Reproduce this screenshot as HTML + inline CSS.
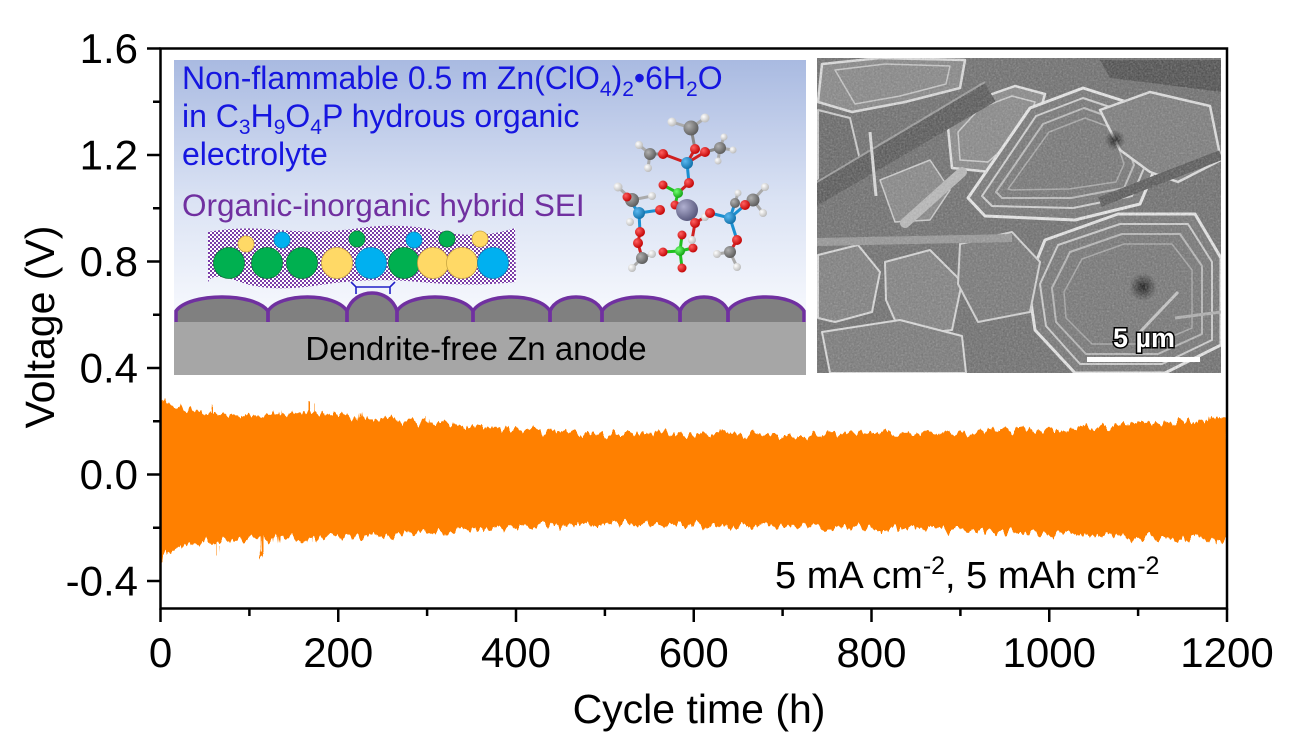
<!DOCTYPE html>
<html>
<head>
<meta charset="utf-8">
<style>
  html,body{margin:0;padding:0;background:#fff;}
  svg{display:block;}
  text{font-family:"Liberation Sans", Arial, sans-serif;}
</style>
</head>
<body>
<svg width="1299" height="738" viewBox="0 0 1299 738" xmlns="http://www.w3.org/2000/svg">
  <defs>
    <linearGradient id="bg1" x1="0" y1="0" x2="0" y2="1">
      <stop offset="0" stop-color="#a9bae1"/>
      <stop offset="0.45" stop-color="#dbe3f4"/>
      <stop offset="0.8" stop-color="#f6f8fd"/>
      <stop offset="1" stop-color="#ffffff"/>
    </linearGradient>
    <pattern id="chk" width="4" height="4" patternUnits="userSpaceOnUse">
      <rect width="4" height="4" fill="#ffffff"/>
      <rect width="2" height="2" fill="#7a3ea8"/>
      <rect x="2" y="2" width="2" height="2" fill="#7a3ea8"/>
    </pattern>
    <radialGradient id="gR" cx="0.35" cy="0.35" r="0.7"><stop offset="0" stop-color="#ff6060"/><stop offset="1" stop-color="#c00000"/></radialGradient>
    <radialGradient id="gC" cx="0.35" cy="0.35" r="0.7"><stop offset="0" stop-color="#b0b0b0"/><stop offset="1" stop-color="#5a5a5a"/></radialGradient>
    <radialGradient id="gW" cx="0.35" cy="0.35" r="0.7"><stop offset="0" stop-color="#ffffff"/><stop offset="1" stop-color="#b8b8b8"/></radialGradient>
    <radialGradient id="gB" cx="0.35" cy="0.35" r="0.7"><stop offset="0" stop-color="#5ab8f0"/><stop offset="1" stop-color="#0f6fa8"/></radialGradient>
    <radialGradient id="gL" cx="0.35" cy="0.35" r="0.7"><stop offset="0" stop-color="#70ff70"/><stop offset="1" stop-color="#10a010"/></radialGradient>
    <radialGradient id="gZ" cx="0.35" cy="0.35" r="0.7"><stop offset="0" stop-color="#b0b0d0"/><stop offset="1" stop-color="#55557a"/></radialGradient>
    <radialGradient id="dark" cx="0.5" cy="0.5" r="0.5"><stop offset="0" stop-color="#000" stop-opacity="0.9"/><stop offset="1" stop-color="#000" stop-opacity="0"/></radialGradient>
    <clipPath id="semclip"><rect x="817" y="58" width="404" height="315"/></clipPath>
    <clipPath id="plotclip"><rect x="161.5" y="49.5" width="1064.5" height="558"/></clipPath>
    <filter id="grain" x="0" y="0" width="100%" height="100%">
      <feTurbulence type="fractalNoise" baseFrequency="0.55" numOctaves="2" seed="7"/>
      <feColorMatrix type="saturate" values="0"/>
    </filter>
    <filter id="rough" x="-0.02" y="-0.2" width="1.04" height="1.4" filterUnits="objectBoundingBox">
      <feTurbulence type="fractalNoise" baseFrequency="0.18 0.01" numOctaves="3" seed="5" result="t"/>
      <feDisplacementMap in="SourceGraphic" in2="t" scale="17" xChannelSelector="G" yChannelSelector="R"/>
    </filter>
  </defs>

  <!-- ===== Orange data band ===== -->
  <g clip-path="url(#plotclip)">
    <g filter="url(#rough)">
      <g transform="translate(160.5,474.5) scale(0.88875,-266.25)">
        <polygon fill="#ff8000" points="-5,0.285 0,0.285 1.5,0.292 4,0.285 8,0.265 12,0.258 20,0.25 30,0.243 45,0.234 58,0.228 59,0.262 61,0.262 62,0.226 80,0.222 100,0.222 120,0.224 134,0.226 135,0.245 136,0.226 150,0.228 169,0.232 170,0.268 172,0.268 173,0.232 190,0.228 210,0.222 224,0.218 225,0.235 226,0.216 250,0.21 280,0.2 299,0.194 300,0.212 301,0.193 340,0.185 370,0.178 400,0.17 430,0.163 466,0.156 500,0.155 550,0.153 608,0.153 650,0.15 700,0.148 750,0.153 800,0.158 850,0.156 888,0.155 950,0.162 1000,0.17 1049,0.178 1100,0.19 1150,0.2 1179,0.206 1180,0.23 1182,0.208 1200,0.215 1205,0.215 1205,-0.245 1200,-0.245 1190,-0.243 1189,-0.262 1188,-0.242 1150,-0.24 1100,-0.236 1049,-0.232 1000,-0.22 950,-0.213 888,-0.208 800,-0.2 700,-0.198 650,-0.195 608,-0.19 543,-0.182 500,-0.185 450,-0.19 420,-0.195 388,-0.2 340,-0.21 300,-0.218 270,-0.225 233,-0.232 200,-0.236 176,-0.238 175,-0.262 174,-0.238 150,-0.24 131,-0.242 130,-0.27 129,-0.243 115,-0.244 114,-0.322 112.5,-0.322 112,-0.245 100,-0.245 80,-0.25 67,-0.253 66,-0.3 64.5,-0.3 64,-0.254 58,-0.255 40,-0.262 22,-0.272 10,-0.29 3,-0.31 0,-0.335 -5,-0.335"/>
      </g>
    </g>
  </g>

  <!-- ===== Inset 1: schematic ===== -->
  <rect x="174" y="60" width="632" height="315" fill="url(#bg1)"/>
  <text x="182" y="89" font-size="32" fill="#1616e0">Non-flammable 0.5 m Zn(ClO<tspan dy="7" font-size="21">4</tspan><tspan dy="-7">)</tspan><tspan dy="7" font-size="21">2</tspan><tspan dy="-7">•6H</tspan><tspan dy="7" font-size="21">2</tspan><tspan dy="-7">O</tspan></text>
  <text x="182" y="127" font-size="32" fill="#1616e0">in C<tspan dy="7" font-size="21">3</tspan><tspan dy="-7">H</tspan><tspan dy="7" font-size="21">9</tspan><tspan dy="-7">O</tspan><tspan dy="7" font-size="21">4</tspan><tspan dy="-7">P hydrous organic</tspan></text>
  <text x="182" y="165" font-size="32" fill="#1616e0">electrolyte</text>
  <text x="182" y="216" font-size="31.5" fill="#7030a0">Organic-inorganic hybrid SEI</text>

  <!-- SEI hatched layer -->
  <path d="M208,232 Q240,226 280,230 T360,228 T440,231 T515,228 L516,282 Q470,287 420,282 T320,285 T240,282 T208,283 Z" fill="url(#chk)"/>
  <g stroke-width="0.8">
    <circle cx="246" cy="244" r="8" fill="#ffd966" stroke="#c9a640"/>
    <circle cx="282" cy="240" r="8" fill="#00b0f0" stroke="#0a86b8"/>
    <circle cx="357" cy="239" r="8" fill="#00b050" stroke="#0a7a3a"/>
    <circle cx="414" cy="240" r="8" fill="#00b0f0" stroke="#0a86b8"/>
    <circle cx="447" cy="239" r="8" fill="#00b050" stroke="#0a7a3a"/>
    <circle cx="480" cy="239" r="8" fill="#ffd966" stroke="#c9a640"/>
    <circle cx="229" cy="263" r="15.5" fill="#00b050" stroke="#0a7a3a"/>
    <circle cx="267" cy="263" r="15.5" fill="#00b050" stroke="#0a7a3a"/>
    <circle cx="302" cy="263" r="15.5" fill="#00b050" stroke="#0a7a3a"/>
    <circle cx="337" cy="263" r="15.5" fill="#ffd966" stroke="#c9a640"/>
    <circle cx="371" cy="263" r="15.5" fill="#00b0f0" stroke="#0a86b8"/>
    <circle cx="404" cy="263" r="15.5" fill="#00b050" stroke="#0a7a3a"/>
    <circle cx="433" cy="263" r="15.5" fill="#ffd966" stroke="#c9a640"/>
    <circle cx="462" cy="263" r="15.5" fill="#ffd966" stroke="#c9a640"/>
    <circle cx="493" cy="263" r="15.5" fill="#00b0f0" stroke="#0a86b8"/>
  </g>

  <!-- Zn anode bar -->
  <rect x="174" y="322" width="632" height="53" fill="#a6a6a6"/>
  <g fill="#808080">
    <path d="M176,322 L176,311 C189.8,292.3 254.2,292.3 268,311 L268,322 Z"/>
    <path d="M268,322 L268,311 C279.85,292.3 335.15,292.3 347,311 L347,322 Z"/>
    <path d="M347,322 L347,311 C354.5,287 389.5,287 397,311 L397,322 Z"/>
    <path d="M397,322 L397,311 C408.4,292.3 461.6,292.3 473,311 L473,322 Z"/>
    <path d="M473,322 L473,311 C484.55,292.3 538.45,292.3 550,311 L550,322 Z"/>
    <path d="M550,322 L550,311 C557.8,292.3 594.2,292.3 602,311 L602,322 Z"/>
    <path d="M602,322 L602,311 C613.7,292.3 668.3,292.3 680,311 L680,322 Z"/>
    <path d="M680,322 L680,311 C687.2,292.3 720.8,292.3 728,311 L728,322 Z"/>
    <path d="M728,322 L728,311 C739.4,292.3 792.6,292.3 804,311 L804,322 Z"/>
  </g>
  <g fill="none" stroke="#7030a0" stroke-width="3.5">
    <path d="M176,322 L176,311 C189.8,292.3 254.2,292.3 268,311 L268,322"/>
    <path d="M268,322 L268,311 C279.85,292.3 335.15,292.3 347,311 L347,322"/>
    <path d="M347,322 L347,311 C354.5,287 389.5,287 397,311 L397,322"/>
    <path d="M397,322 L397,311 C408.4,292.3 461.6,292.3 473,311 L473,322"/>
    <path d="M473,322 L473,311 C484.55,292.3 538.45,292.3 550,311 L550,322"/>
    <path d="M550,322 L550,311 C557.8,292.3 594.2,292.3 602,311 L602,322"/>
    <path d="M602,322 L602,311 C613.7,292.3 668.3,292.3 680,311 L680,322"/>
    <path d="M680,322 L680,311 C687.2,292.3 720.8,292.3 728,311 L728,322"/>
    <path d="M728,322 L728,311 C739.4,292.3 792.6,292.3 804,311 L804,322"/>
  </g>
  <path d="M351,282 L356,287 L390,287 L395,282 M356,287 L356,294 M390,287 L390,294" fill="none" stroke="#2020c8" stroke-width="1.6"/>
  <text x="476" y="360" font-size="33" fill="#000" text-anchor="middle">Dendrite-free Zn anode</text>

  <!-- molecule -->
  <g stroke-width="3" stroke-linecap="round">
    <line x1="687" y1="163" x2="663" y2="154" stroke="#d02020"/>
    <line x1="663" y1="154" x2="650" y2="154" stroke="#888"/>
    <line x1="650" y1="154" x2="639" y2="145" stroke="#aaa"/>
    <line x1="650" y1="154" x2="648" y2="168" stroke="#aaa"/>
    <line x1="687" y1="163" x2="695" y2="149" stroke="#d02020"/>
    <line x1="695" y1="149" x2="691" y2="128" stroke="#888"/>
    <line x1="691" y1="128" x2="672" y2="122" stroke="#aaa"/>
    <line x1="691" y1="128" x2="705" y2="118" stroke="#aaa"/>
    <line x1="687" y1="163" x2="705" y2="152" stroke="#d02020"/>
    <line x1="705" y1="152" x2="720" y2="148" stroke="#888"/>
    <line x1="720" y1="148" x2="724" y2="137" stroke="#aaa"/>
    <line x1="720" y1="148" x2="733" y2="150" stroke="#aaa"/>
    <line x1="720" y1="148" x2="718" y2="161" stroke="#aaa"/>
    <line x1="687" y1="163" x2="689" y2="183" stroke="#1a8fd0"/>
    <line x1="689" y1="183" x2="678" y2="193" stroke="#d02020"/>
    <line x1="678" y1="193" x2="663" y2="185" stroke="#20c020"/>
    <line x1="678" y1="193" x2="675" y2="205" stroke="#20c020"/>
    <line x1="639" y1="213" x2="660" y2="210" stroke="#1a8fd0"/>
    <line x1="639" y1="213" x2="627" y2="197" stroke="#1a8fd0"/>
    <line x1="632" y1="200" x2="618" y2="187" stroke="#aaa"/>
    <line x1="632" y1="200" x2="652" y2="196" stroke="#aaa"/>
    <line x1="639" y1="213" x2="640" y2="232" stroke="#1a8fd0"/>
    <line x1="640" y1="232" x2="638" y2="243" stroke="#d02020"/>
    <line x1="638" y1="243" x2="642" y2="258" stroke="#d02020"/>
    <line x1="642" y1="258" x2="632" y2="268" stroke="#aaa"/>
    <line x1="642" y1="258" x2="652" y2="254" stroke="#aaa"/>
    <line x1="680" y1="251" x2="663" y2="252" stroke="#20c020"/>
    <line x1="680" y1="251" x2="682" y2="235" stroke="#20c020"/>
    <line x1="680" y1="251" x2="693" y2="248" stroke="#20c020"/>
    <line x1="680" y1="251" x2="682" y2="268" stroke="#20c020"/>
    <line x1="695" y1="223" x2="692" y2="240" stroke="#d02020"/>
    <line x1="695" y1="223" x2="705" y2="217" stroke="#d02020"/>
    <line x1="730" y1="218" x2="710" y2="213" stroke="#1a8fd0"/>
    <line x1="730" y1="218" x2="745" y2="205" stroke="#1a8fd0"/>
    <line x1="745" y1="205" x2="753" y2="200" stroke="#d02020"/>
    <line x1="753" y1="200" x2="765" y2="187" stroke="#aaa"/>
    <line x1="753" y1="200" x2="763" y2="213" stroke="#aaa"/>
    <line x1="730" y1="218" x2="735" y2="203" stroke="#1a8fd0"/>
    <line x1="735" y1="203" x2="738" y2="193" stroke="#aaa"/>
    <line x1="730" y1="218" x2="737" y2="240" stroke="#1a8fd0"/>
    <line x1="737" y1="240" x2="730" y2="252" stroke="#d02020"/>
    <line x1="730" y1="252" x2="717" y2="254" stroke="#aaa"/>
    <line x1="730" y1="252" x2="737" y2="267" stroke="#aaa"/>
  </g>
  <g>
    <circle cx="639" cy="145" r="4" fill="url(#gW)"/>
    <circle cx="648" cy="168" r="4" fill="url(#gW)"/>
    <circle cx="672" cy="122" r="4.5" fill="url(#gW)"/>
    <circle cx="705" cy="118" r="4.5" fill="url(#gW)"/>
    <circle cx="724" cy="137" r="3.5" fill="url(#gW)"/>
    <circle cx="733" cy="150" r="3.5" fill="url(#gW)"/>
    <circle cx="718" cy="161" r="3.5" fill="url(#gW)"/>
    <circle cx="650" cy="154" r="6" fill="url(#gC)"/>
    <circle cx="691" cy="128" r="7.5" fill="url(#gC)"/>
    <circle cx="720" cy="148" r="6" fill="url(#gC)"/>
    <circle cx="663" cy="154" r="5" fill="url(#gR)"/>
    <circle cx="695" cy="149" r="5" fill="url(#gR)"/>
    <circle cx="705" cy="152" r="5" fill="url(#gR)"/>
    <circle cx="687" cy="163" r="6" fill="url(#gB)"/>
    <circle cx="689" cy="183" r="5" fill="url(#gR)"/>
    <circle cx="663" cy="185" r="4.5" fill="url(#gR)"/>
    <circle cx="675" cy="205" r="4.5" fill="url(#gR)"/>
    <circle cx="678" cy="193" r="5" fill="url(#gL)"/>
    <circle cx="618" cy="187" r="4.5" fill="url(#gW)"/>
    <circle cx="652" cy="196" r="4" fill="url(#gW)"/>
    <circle cx="632" cy="200" r="7" fill="url(#gC)"/>
    <circle cx="627" cy="197" r="4.5" fill="url(#gR)"/>
    <circle cx="660" cy="210" r="5" fill="url(#gR)"/>
    <circle cx="630" cy="222" r="4" fill="url(#gW)"/>
    <circle cx="639" cy="213" r="6" fill="url(#gB)"/>
    <circle cx="640" cy="232" r="5" fill="url(#gR)"/>
    <circle cx="638" cy="243" r="5" fill="url(#gR)"/>
    <circle cx="632" cy="268" r="4" fill="url(#gW)"/>
    <circle cx="652" cy="254" r="4" fill="url(#gW)"/>
    <circle cx="642" cy="258" r="6" fill="url(#gC)"/>
    <circle cx="687" cy="210" r="11" fill="url(#gZ)"/>
    <circle cx="663" cy="252" r="4.5" fill="url(#gR)"/>
    <circle cx="682" cy="235" r="4.5" fill="url(#gR)"/>
    <circle cx="693" cy="248" r="4.5" fill="url(#gR)"/>
    <circle cx="682" cy="268" r="4.5" fill="url(#gR)"/>
    <circle cx="680" cy="251" r="5" fill="url(#gL)"/>
    <circle cx="692" cy="240" r="4" fill="url(#gW)"/>
    <circle cx="705" cy="217" r="4" fill="url(#gW)"/>
    <circle cx="695" cy="223" r="5" fill="url(#gR)"/>
    <circle cx="765" cy="187" r="4" fill="url(#gW)"/>
    <circle cx="763" cy="213" r="4" fill="url(#gW)"/>
    <circle cx="738" cy="193" r="3.5" fill="url(#gW)"/>
    <circle cx="753" cy="200" r="6.5" fill="url(#gC)"/>
    <circle cx="735" cy="203" r="5" fill="url(#gC)"/>
    <circle cx="710" cy="213" r="5" fill="url(#gR)"/>
    <circle cx="745" cy="205" r="5" fill="url(#gR)"/>
    <circle cx="730" cy="218" r="6" fill="url(#gB)"/>
    <circle cx="737" cy="240" r="5" fill="url(#gR)"/>
    <circle cx="717" cy="254" r="4" fill="url(#gW)"/>
    <circle cx="737" cy="267" r="4" fill="url(#gW)"/>
    <circle cx="730" cy="252" r="6" fill="url(#gC)"/>
  </g>

  <!-- ===== Inset 2: SEM ===== -->
  <g clip-path="url(#semclip)">
    <rect x="817" y="58" width="404" height="315" fill="#6a6a6a"/>
    <g stroke-linejoin="round">
      <polygon points="822,64 880,58 965,60 960,88 905,102 852,112 818,102" fill="#848484" stroke="#e0e0e0" stroke-width="2.5"/>
      <polygon points="835,70 885,64 950,66 946,84 900,96 855,104" fill="none" stroke="#c8c8c8" stroke-width="1.5"/>
      <polygon points="818,110 850,118 860,160 840,185 818,190" fill="#626262" stroke="#cfcfcf" stroke-width="2"/>
      <polygon points="948,128 975,100 1015,86 1045,94 1035,130 990,172 952,168" fill="#868686" stroke="#e6e6e6" stroke-width="2.5"/>
      <polygon points="958,132 980,108 1012,96 1035,102 1026,128 988,162 960,160" fill="none" stroke="#cfcfcf" stroke-width="1.5"/>
      <polygon points="968,198 1030,108 1083,88 1133,104 1156,166 1140,204 1075,220 985,216" fill="#727272" stroke="#ececec" stroke-width="3"/>
      <polygon points="982,196 1036,116 1083,98 1125,112 1145,166 1132,196 1073,208 992,206" fill="none" stroke="#d4d4d4" stroke-width="2"/>
      <polygon points="996,192 1043,124 1084,108 1118,120 1134,165 1124,188 1071,198 1002,198" fill="none" stroke="#bdbdbd" stroke-width="2"/>
      <polygon points="1008,189 1049,132 1085,118 1112,128 1124,164 1116,182 1069,189 1012,190" fill="none" stroke="#a8a8a8" stroke-width="1.5"/>
      <polygon points="1100,110 1150,92 1210,106 1221,160 1178,182 1150,172 1120,150" fill="#787878" stroke="#e2e2e2" stroke-width="2.5"/>
      <polygon points="1100,60 1221,60 1221,92 1160,84 1110,78" fill="#484848"/>
      <polygon points="1045,240 1118,214 1195,214 1221,258 1221,345 1165,373 1075,373 1035,330 1028,282" fill="#727272" stroke="#eaeaea" stroke-width="3"/>
      <polygon points="1058,245 1120,224 1188,224 1212,262 1212,340 1162,364 1080,364 1046,326 1040,284" fill="none" stroke="#cfcfcf" stroke-width="2"/>
      <polygon points="1070,252 1122,234 1180,234 1202,266 1202,334 1158,354 1086,354 1056,322 1052,288" fill="none" stroke="#b8b8b8" stroke-width="2"/>
      <polygon points="1082,259 1124,244 1172,244 1192,270 1192,328 1154,344 1092,344 1066,318 1064,292" fill="none" stroke="#a5a5a5" stroke-width="1.5"/>
      <polygon points="818,255 858,245 880,272 872,312 835,322 818,318" fill="#7c7c7c" stroke="#dcdcdc" stroke-width="2"/>
      <polygon points="885,262 930,250 962,282 952,330 902,336 886,300" fill="#7e7e7e" stroke="#dadada" stroke-width="2"/>
      <polygon points="960,244 1012,232 1040,262 1030,312 978,322 958,284" fill="#747474" stroke="#d6d6d6" stroke-width="2"/>
      <polygon points="822,332 900,320 962,336 966,373 830,373" fill="#767676" stroke="#dedede" stroke-width="2"/>
      <polygon points="880,180 930,160 950,190 930,220 895,222" fill="#848484" stroke="#cfcfcf" stroke-width="1.5"/>
    </g>
    <line x1="812" y1="196" x2="990" y2="92" stroke="#525252" stroke-width="22"/>
    <line x1="812" y1="185" x2="985" y2="82" stroke="#9a9a9a" stroke-width="2"/>
    <line x1="905" y1="223" x2="962" y2="172" stroke="#b9b9b9" stroke-width="10" stroke-linecap="round"/>
    <line x1="817" y1="242" x2="1012" y2="238" stroke="#959595" stroke-width="8"/>
    <line x1="870" y1="132" x2="876" y2="196" stroke="#dedede" stroke-width="3"/>
    <line x1="1140" y1="332" x2="1178" y2="292" stroke="#c6c6c6" stroke-width="3"/>
    <line x1="1175" y1="318" x2="1221" y2="312" stroke="#b0b0b0" stroke-width="3"/>
    <line x1="1100" y1="202" x2="1221" y2="155" stroke="#525252" stroke-width="10"/>
    <circle cx="1143" cy="287" r="14" fill="url(#dark)"/>
    <circle cx="1115" cy="140" r="10" fill="url(#dark)"/>
    <rect x="817" y="58" width="404" height="315" filter="url(#grain)" opacity="0.45"/>
    <rect x="1087" y="357" width="113" height="5" fill="#ffffff"/>
    <text x="1144" y="347" font-size="27" font-weight="bold" fill="#ffffff" stroke="#000" stroke-width="3" paint-order="stroke" text-anchor="middle">5 µm</text>
  </g>

  <!-- ===== Axes ===== -->
  <rect x="160.5" y="48.5" width="1066.5" height="560" fill="none" stroke="#000" stroke-width="2.5"/>
  <g stroke="#000" stroke-width="2.5">
    <line x1="147" y1="48.5" x2="160.5" y2="48.5"/>
    <line x1="147" y1="155" x2="160.5" y2="155"/>
    <line x1="147" y1="261.5" x2="160.5" y2="261.5"/>
    <line x1="147" y1="368" x2="160.5" y2="368"/>
    <line x1="147" y1="474.5" x2="160.5" y2="474.5"/>
    <line x1="147" y1="581" x2="160.5" y2="581"/>
    <line x1="153" y1="101.75" x2="160.5" y2="101.75"/>
    <line x1="153" y1="208.25" x2="160.5" y2="208.25"/>
    <line x1="153" y1="314.75" x2="160.5" y2="314.75"/>
    <line x1="153" y1="421.25" x2="160.5" y2="421.25"/>
    <line x1="153" y1="527.75" x2="160.5" y2="527.75"/>
    <line x1="160.5" y1="608.5" x2="160.5" y2="622"/>
    <line x1="338.25" y1="608.5" x2="338.25" y2="622"/>
    <line x1="516" y1="608.5" x2="516" y2="622"/>
    <line x1="693.75" y1="608.5" x2="693.75" y2="622"/>
    <line x1="871.5" y1="608.5" x2="871.5" y2="622"/>
    <line x1="1049.25" y1="608.5" x2="1049.25" y2="622"/>
    <line x1="1227" y1="608.5" x2="1227" y2="622"/>
    <line x1="249.4" y1="608.5" x2="249.4" y2="616"/>
    <line x1="427.1" y1="608.5" x2="427.1" y2="616"/>
    <line x1="604.9" y1="608.5" x2="604.9" y2="616"/>
    <line x1="782.6" y1="608.5" x2="782.6" y2="616"/>
    <line x1="960.4" y1="608.5" x2="960.4" y2="616"/>
    <line x1="1138.1" y1="608.5" x2="1138.1" y2="616"/>
  </g>

  <g font-size="42" fill="#000" text-anchor="end">
    <text x="138" y="63">1.6</text>
    <text x="138" y="169.5">1.2</text>
    <text x="138" y="276">0.8</text>
    <text x="138" y="382.5">0.4</text>
    <text x="138" y="489">0.0</text>
    <text x="138" y="595.5">-0.4</text>
  </g>
  <g font-size="42" fill="#000" text-anchor="middle">
    <text x="160.5" y="667">0</text>
    <text x="338.25" y="667">200</text>
    <text x="516" y="667">400</text>
    <text x="693.75" y="667">600</text>
    <text x="871.5" y="667">800</text>
    <text x="1049.25" y="667">1000</text>
    <text x="1227" y="667">1200</text>
  </g>

  <text x="699" y="723" font-size="41" text-anchor="middle" fill="#000">Cycle time (h)</text>
  <text transform="translate(54,327) rotate(-90)" font-size="41" text-anchor="middle" fill="#000">Voltage (V)</text>

  <text x="775" y="588" font-size="38" fill="#000">5 mA cm<tspan dy="-14" font-size="25">-2</tspan><tspan dy="14">, 5 mAh cm</tspan><tspan dy="-14" font-size="25">-2</tspan></text>
</svg>
</body>
</html>
